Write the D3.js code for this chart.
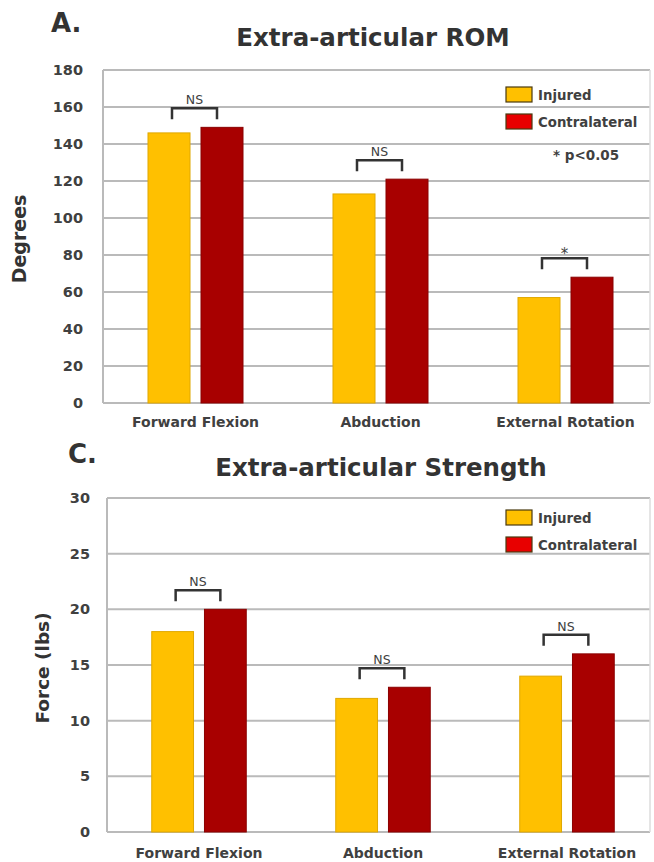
<!DOCTYPE html>
<html>
<head>
<meta charset="utf-8">
<script src="https://cdn.jsdelivr.net/npm/d3@7"></script>
<style>
  html, body { margin: 0; padding: 0; background: #fff; }
  svg { display: block; }
  text { font-family: "DejaVu Sans", sans-serif; }
</style>
</head>
<body>
<svg id="chart" width="654" height="862"></svg>
<script>
// ---- data ----
const categories = ["Forward Flexion", "Abduction", "External Rotation"];
const seriesNames = ["Injured", "Contralateral"];

const romInjured = [146, 113, 57];
const romContralateral = [149, 121, 68];
const romTicks = [0, 20, 40, 60, 80, 100, 120, 140, 160, 180];
const romSignificance = ["NS", "NS", "*"];

const strengthInjured = [18, 12, 14];
const strengthContralateral = [20, 13, 16];
const strengthTicks = [0, 5, 10, 15, 20, 25, 30];
const strengthSignificance = ["NS", "NS", "NS"];

// ---- styling ----
const barColors = ["#FFC000", "#A80000"];
const swatchColors = ["#FFC000", "#E80000"];
const gridColor = "#BABABA";
const textColor = "#404040";

const svg = d3.select("#chart");

function drawPanel(opt) {
  const g = svg.append("g");
  const y = d3.scaleLinear().domain([0, d3.max(opt.ticks)]).range([opt.bottom, opt.top]);
  const x0 = d3.scaleBand().domain(categories).range([opt.left, opt.bandRight]);
  const x1 = d3.scaleBand().domain(seriesNames).range([0, x0.bandwidth()])
    .paddingInner(0.2075).paddingOuter(0.849);

  // gridlines
  g.append("g").selectAll("line").data(opt.ticks).join("line")
    .attr("x1", opt.left).attr("x2", opt.right)
    .attr("y1", d => y(d)).attr("y2", d => y(d))
    .attr("stroke", gridColor).attr("stroke-width", 2);

  // plot frame (left + right)
  g.append("line").attr("x1", opt.left).attr("x2", opt.left)
    .attr("y1", opt.top).attr("y2", opt.bottom)
    .attr("stroke", gridColor).attr("stroke-width", 2);
  g.append("line").attr("x1", opt.right).attr("x2", opt.right)
    .attr("y1", opt.top).attr("y2", opt.bottom)
    .attr("stroke", "#DDDDDD").attr("stroke-width", 1.5);

  // y axis labels
  const yAxis = d3.axisLeft(y).tickValues(opt.ticks).tickSize(0).tickPadding(0);
  const ya = g.append("g").attr("transform", `translate(${opt.tickX},0)`).call(yAxis);
  ya.select(".domain").remove();
  ya.selectAll("text")
    .attr("font-size", opt.tickFont).attr("font-weight", 700)
    .attr("fill", textColor);

  // x axis labels
  const xAxis = d3.axisBottom(x0).tickSize(0).tickPadding(0);
  const xa = g.append("g").attr("transform", `translate(0,${opt.xLabelY})`).call(xAxis);
  xa.select(".domain").remove();
  xa.selectAll("text")
    .attr("dy", 0)
    .attr("font-size", 14).attr("font-weight", 700)
    .attr("fill", textColor);

  // bars
  const rows = categories.map((c, i) => ({
    cat: c, vals: [opt.injured[i], opt.contralateral[i]], sig: opt.sig[i]
  }));
  const groups = g.append("g").selectAll("g").data(rows).join("g")
    .attr("transform", d => `translate(${x0(d.cat)},0)`);
  groups.selectAll("rect")
    .data(d => d.vals.map((v, k) => ({ name: seriesNames[k], v, k })))
    .join("rect")
    .attr("x", d => x1(d.name))
    .attr("width", x1.bandwidth())
    .attr("y", d => y(d.v))
    .attr("height", d => y(0) - y(d.v))
    .attr("fill", d => barColors[d.k])
    .attr("stroke", d => d.k === 0 ? "#E0A800" : "#8A0000")
    .attr("stroke-width", 1);

  // significance brackets
  groups.each(function (d) {
    const gg = d3.select(this);
    const xa0 = x1(seriesNames[0]) + x1.bandwidth() / 2 + 3;
    const xb0 = x1(seriesNames[1]) + x1.bandwidth() / 2 - 5;
    const yb = y(d3.max(d.vals)) - 8;
    const yt = yb - 11;
    gg.append("path")
      .attr("d", `M${xa0},${yb}V${yt}H${xb0}V${yb}`)
      .attr("fill", "none").attr("stroke", "#333").attr("stroke-width", 2.5);
    gg.append("text")
      .attr("x", (xa0 + xb0) / 2).attr("y", d.sig === "*" ? yt + 1 : yt - 4)
      .attr("text-anchor", "middle")
      .attr("font-size", d.sig === "*" ? 15 : 12.5)
      .attr("font-weight", 400)
      .attr("fill", textColor)
      .text(d.sig);
  });

  // legend
  const lg = g.append("g").attr("transform", `translate(506,${opt.legendTop})`);
  seriesNames.forEach((s, k) => {
    lg.append("rect").attr("x", 0).attr("y", k * 27).attr("width", 26).attr("height", 15)
      .attr("fill", swatchColors[k]).attr("stroke", "#4A3A10").attr("stroke-width", 1.2);
    lg.append("text").attr("x", 32).attr("y", k * 27 + 12.5)
      .attr("font-size", 13.3).attr("font-weight", 700)
      .attr("fill", textColor).text(s);
  });

  // titles
  g.append("text").attr("x", opt.titleX).attr("y", opt.titleY)
    .attr("text-anchor", "middle").attr("font-size", 24.5).attr("font-weight", 700)
    .attr("fill", "#333").text(opt.title);
  g.append("text").attr("x", opt.letterX).attr("y", opt.letterY)
    .attr("font-size", 26).attr("font-weight", 700)
    .attr("fill", "#333").text(opt.letter);
  g.append("text")
    .attr("transform", `translate(${opt.yTitleX},${opt.yTitleY}) rotate(-90)`)
    .attr("text-anchor", "middle").attr("font-size", opt.yTitleSize)
    .attr("font-weight", 700).attr("fill", "#333").text(opt.yTitle);

  return g;
}

const romPanel = drawPanel({
  top: 70, bottom: 403, left: 103, right: 650, bandRight: 658,
  ticks: romTicks, injured: romInjured, contralateral: romContralateral, sig: romSignificance,
  tickX: 83, tickFont: 14.5, xLabelY: 427, legendTop: 87,
  title: "Extra-articular ROM", titleX: 373, titleY: 46,
  letter: "A.", letterX: 51, letterY: 32,
  yTitle: "Degrees", yTitleX: 26, yTitleY: 239, yTitleSize: 19
});
romPanel.append("text").attr("x", 553).attr("y", 160)
  .attr("font-size", 13.5).attr("font-weight", 700).attr("fill", textColor)
  .text("* p<0.05");

drawPanel({
  top: 498, bottom: 832, left: 107, right: 650, bandRight: 659,
  ticks: strengthTicks, injured: strengthInjured, contralateral: strengthContralateral, sig: strengthSignificance,
  tickX: 90, tickFont: 14.5, xLabelY: 858, legendTop: 510,
  title: "Extra-articular Strength", titleX: 381, titleY: 476,
  letter: "C.", letterX: 68, letterY: 463,
  yTitle: "Force (lbs)", yTitleX: 49, yTitleY: 668, yTitleSize: 18.5
});
</script>
</body>
</html>
